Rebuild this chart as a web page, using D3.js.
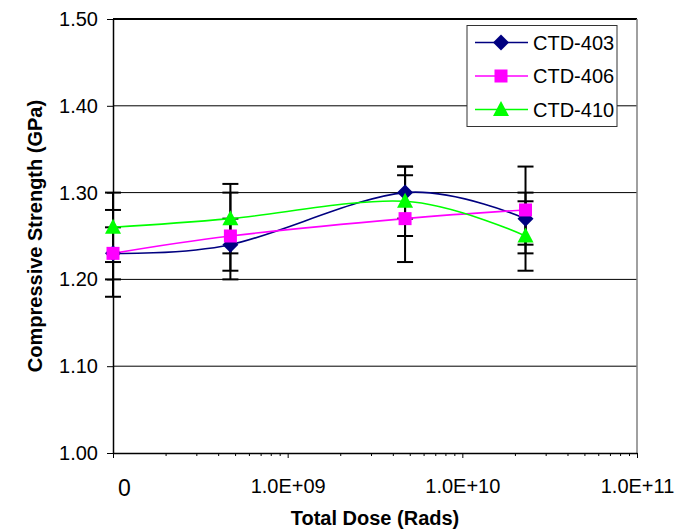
<!DOCTYPE html>
<html>
<head>
<meta charset="utf-8">
<script src="https://cdn.jsdelivr.net/npm/d3@7"></script>
<style>
  body { margin: 0; background: #fff; }
  svg { display: block; font-family: Arial, "Liberation Sans", sans-serif; }
</style>
</head>
<body>
<div id="chart"></div>
<script>
// data
const seriesNames = ["CTD-403", "CTD-406", "CTD-410"];
const doses = [1e8, 4.7e8, 4.7e9, 2.3e10]; // first point is the "0" dose, drawn at the axis start
const ctd403 = [1.23, 1.24, 1.30, 1.27];
const ctd406 = [1.23, 1.25, 1.27, 1.28];
const ctd410 = [1.26, 1.27, 1.29, 1.25];
const err403 = [0.05, 0.03, 0.03, 0.03];
const err406 = [0.03, 0.05, 0.05, 0.05];
const err410 = [0.04, 0.04, 0.04, 0.04];
const yTicks = [1.0, 1.1, 1.2, 1.3, 1.4, 1.5];
const xTickValues = [1e8, 1e9, 1e10, 1e11];
const xTickLabels = ["0", "1.0E+09", "1.0E+10", "1.0E+11"];

const width = 692;
const height = 530;
const margin = { top: 19, right: 55, bottom: 77, left: 113 };

const svg = d3.select("#chart").append("svg")
  .attr("width", width)
  .attr("height", height);

const x = d3.scaleLog()
  .domain([1e8, 1e11])
  .range([margin.left, width - margin.right]);

const y = d3.scaleLinear()
  .domain([1.0, 1.5])
  .range([height - margin.bottom, margin.top]);

const series = [
  { name: seriesNames[0], values: ctd403, errors: err403, color: "#000080", shape: "diamond" },
  { name: seriesNames[1], values: ctd406, errors: err406, color: "#ff00ff", shape: "square" },
  { name: seriesNames[2], values: ctd410, errors: err410, color: "#00ff00", shape: "triangle" }
];

// gridlines
svg.append("g")
  .selectAll("line")
  .data(yTicks.filter(t => t > 1.0 && t < 1.5))
  .join("line")
  .attr("x1", margin.left)
  .attr("x2", width - margin.right)
  .attr("y1", d => y(d))
  .attr("y2", d => y(d))
  .attr("stroke", "#000")
  .attr("stroke-width", 1);

// plot frame: top black, right gray
svg.append("line")
  .attr("x1", margin.left).attr("x2", width - margin.right)
  .attr("y1", y(1.5)).attr("y2", y(1.5))
  .attr("stroke", "#000").attr("stroke-width", 2);
svg.append("line")
  .attr("x1", width - margin.right).attr("x2", width - margin.right)
  .attr("y1", y(1.5)).attr("y2", y(1.0))
  .attr("stroke", "#808080").attr("stroke-width", 1.5);

// y axis
const yAxis = svg.append("g")
  .attr("transform", `translate(${margin.left},0)`)
  .call(d3.axisLeft(y)
    .tickValues(yTicks)
    .tickFormat(d3.format(".2f"))
    .tickSize(6)
    .tickPadding(9)
    .tickSizeOuter(0));
yAxis.select(".domain").attr("stroke", "#000").attr("stroke-width", 1.5);
yAxis.selectAll(".tick line").attr("stroke", "#000");
yAxis.selectAll("text")
  .attr("font-family", "Arial, 'Liberation Sans', sans-serif")
  .attr("font-size", 20)
  .attr("fill", "#000");

// x axis minor ticks
const minorTicks = [];
[1e8, 1e9, 1e10].forEach(decade => {
  for (let m = 2; m <= 9; m++) minorTicks.push(decade * m);
});
svg.append("g")
  .attr("transform", `translate(0,${y(1.0)})`)
  .call(d3.axisBottom(x).tickValues(minorTicks).tickSize(3).tickFormat("").tickSizeOuter(0))
  .call(g => g.select(".domain").attr("stroke", "#000").attr("stroke-width", 1.5))
  .call(g => g.selectAll(".tick line").attr("stroke", "#000"));

// x axis major ticks + labels
const xAxis = svg.append("g")
  .attr("transform", `translate(0,${y(1.0)})`)
  .call(d3.axisBottom(x)
    .tickValues(xTickValues)
    .tickSize(5)
    .tickPadding(21)
    .tickSizeOuter(0)
    .tickFormat((d, i) => xTickLabels[i]));
xAxis.select(".domain").remove();
xAxis.selectAll(".tick line").attr("stroke", "#000");
xAxis.selectAll("text")
  .attr("font-family", "Arial, 'Liberation Sans', sans-serif")
  .attr("font-size", (d, i) => i === 0 ? 23 : 20)
  .attr("fill", "#000")
  .attr("dx", (d, i) => i === 0 ? 11 : 0)
  .attr("dy", (d, i) => i === 0 ? "0.75em" : "0.68em");

// axis titles
svg.append("text")
  .attr("x", (margin.left + width - margin.right) / 2)
  .attr("y", 525)
  .attr("text-anchor", "middle")
  .attr("font-size", 20)
  .attr("font-weight", "bold")
  .text("Total Dose (Rads)");

svg.append("text")
  .attr("transform", `translate(42,${(y(1.0) + y(1.5)) / 2}) rotate(-90)`)
  .attr("text-anchor", "middle")
  .attr("font-size", 20)
  .attr("font-weight", "bold")
  .text("Compressive Strength (GPa)");

// error bars
const errG = svg.append("g");
series.forEach(s => {
  s.values.forEach((v, i) => {
    const cx = x(doses[i]);
    const top = y(v + s.errors[i]);
    const bot = y(v - s.errors[i]);
    errG.append("line")
      .attr("x1", cx).attr("x2", cx).attr("y1", top).attr("y2", bot)
      .attr("stroke", "#000").attr("stroke-width", 2);
    [top, bot].forEach(yy => {
      errG.append("line")
        .attr("x1", cx - 8).attr("x2", cx + 8).attr("y1", yy).attr("y2", yy)
        .attr("stroke", "#000").attr("stroke-width", 2);
    });
  });
});

// smoothed lines
const line = d3.line()
  .x((d, i) => x(doses[i]))
  .y(d => y(d))
  .curve(d3.curveCatmullRom.alpha(0));

svg.append("g")
  .selectAll("path")
  .data(series)
  .join("path")
  .attr("d", d => line(d.values))
  .attr("fill", "none")
  .attr("stroke", d => d.color)
  .attr("stroke-width", 1.6);

function drawMarker(g, shape, color, cx, cy) {
  if (shape === "diamond") {
    g.append("path")
      .attr("d", `M${cx},${cy - 8}L${cx + 8},${cy}L${cx},${cy + 8}L${cx - 8},${cy}Z`)
      .attr("fill", color);
  } else if (shape === "square") {
    g.append("rect")
      .attr("x", cx - 6.5).attr("y", cy - 6.5)
      .attr("width", 13).attr("height", 13)
      .attr("fill", color);
  } else {
    g.append("path")
      .attr("d", `M${cx},${cy - 8.5}L${cx + 8},${cy + 6.5}L${cx - 8},${cy + 6.5}Z`)
      .attr("fill", color);
  }
}

const markG = svg.append("g");
series.forEach(s => {
  s.values.forEach((v, i) => drawMarker(markG, s.shape, s.color, x(doses[i]), y(v)));
});

// legend
const legend = svg.append("g");
legend.append("rect")
  .attr("x", 467).attr("y", 25.5)
  .attr("width", 150).attr("height", 101)
  .attr("fill", "#fff")
  .attr("stroke", "#333")
  .attr("stroke-width", 1);

series.forEach((s, i) => {
  const ly = 42.5 + i * 33.5;
  legend.append("line")
    .attr("x1", 475).attr("x2", 528)
    .attr("y1", ly).attr("y2", ly)
    .attr("stroke", s.color).attr("stroke-width", 1.6);
  drawMarker(legend, s.shape, s.color, 501, ly);
  legend.append("text")
    .attr("x", 533)
    .attr("y", ly)
    .attr("dy", "0.36em")
    .attr("font-size", 20)
    .text(s.name);
});
</script>
</body>
</html>
